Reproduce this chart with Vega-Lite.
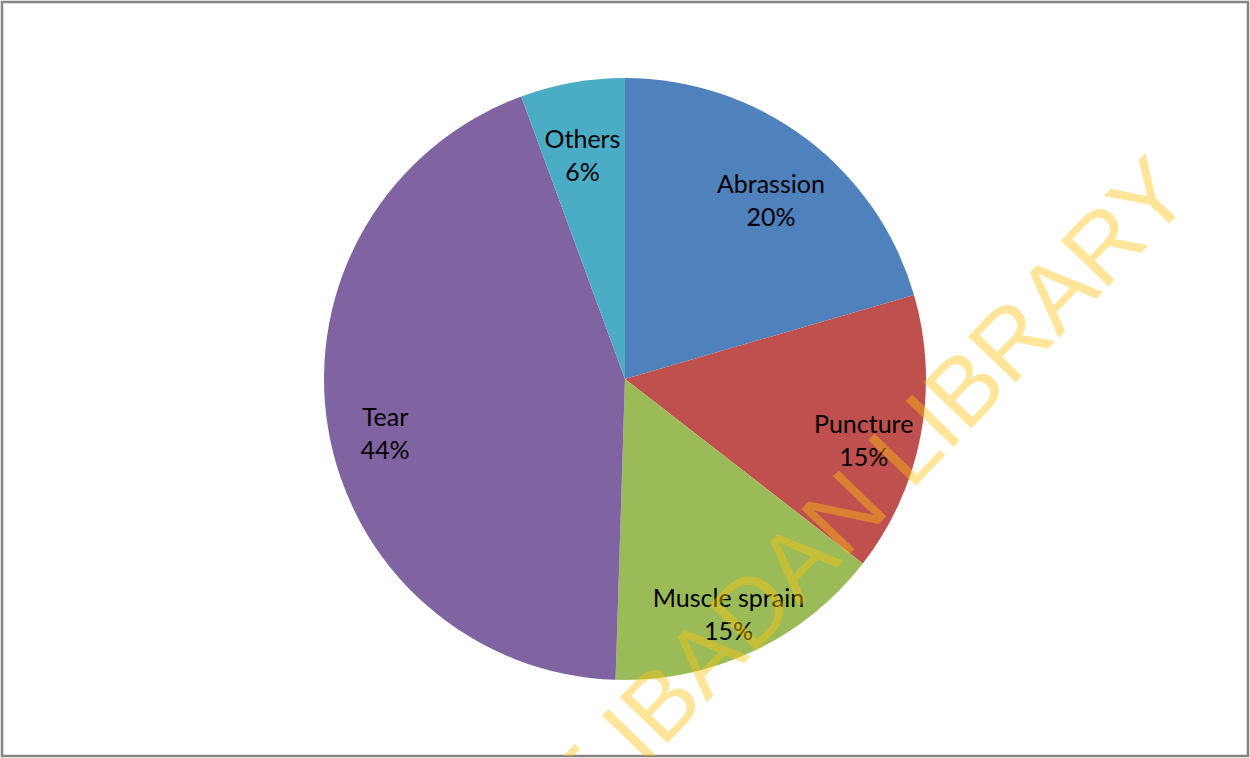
{
  "$schema": "https://vega.github.io/schema/vega-lite/v6.json",
  "width": 1250,
  "height": 758,
  "autosize": {"type": "fit", "contains": "padding"},
  "padding": 2,
  "background": "white",
  "config": {"view": {"stroke": "#858585", "strokeWidth": 2.5}},
  "data": {
    "values": [
      {"idx": 1, "category": "Abrassion", "value": 20.5, "label": "Abrassion\n20%"},
      {"idx": 2, "category": "Puncture", "value": 15.0, "label": "Puncture\n15%"},
      {"idx": 3, "category": "Muscle sprain", "value": 15.0, "label": "Muscle sprain\n15%"},
      {"idx": 4, "category": "Tear", "value": 43.9, "label": "Tear\n44%"},
      {"idx": 5, "category": "Others", "value": 5.6, "label": "Others\n6%"}
    ]
  },
  "layer": [
    {
      "mark": {"type": "arc", "outerRadius": 301, "stroke": null},
      "encoding": {
        "theta": {"field": "value", "type": "quantitative", "stack": true},
        "order": {"field": "idx", "type": "quantitative"},
        "color": {
          "field": "category",
          "type": "nominal",
          "scale": {
            "domain": ["Abrassion", "Puncture", "Muscle sprain", "Tear", "Others"],
            "range": ["#4F81BD", "#C0504D", "#9BBB59", "#8064A2", "#4BACC6"]
          },
          "legend": null
        }
      }
    },
    {
      "mark": {"type": "text", "font": "Lato", "fontSize": 25, "lineHeight": 33, "lineBreak": "\n", "color": "black", "align": "center", "baseline": "middle"},
      "encoding": {
        "theta": {"field": "value", "type": "quantitative", "stack": true},
        "order": {"field": "idx", "type": "quantitative"},
        "radius": {"value": 243},
        "text": {"field": "label", "type": "nominal"}
      }
    },
    {
      "data": {"values": [{"wm": "UNIVERSITY OF IBADAN LIBRARY", "wx": 0.957, "wy": 0.741}]},
      "mark": {"type": "text", "font": "Liberation Sans", "fontSize": 96, "angle": 314, "align": "right", "baseline": "alphabetic", "color": "#FFC30E", "opacity": 0.42, "clip": true},
      "encoding": {
        "x": {"field": "wx", "type": "quantitative", "scale": {"domain": [0, 1]}, "axis": null},
        "y": {"field": "wy", "type": "quantitative", "scale": {"domain": [0, 1]}, "axis": null},
        "text": {"field": "wm", "type": "nominal"}
      }
    }
  ]
}
